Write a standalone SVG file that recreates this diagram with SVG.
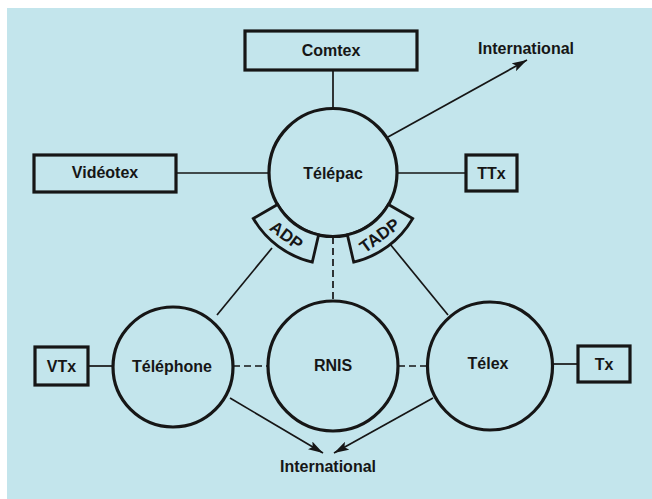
<svg xmlns="http://www.w3.org/2000/svg" width="652" height="499" viewBox="0 0 652 499">
<defs>
<style>
.bg{fill:#c3e5ec}
.node{fill:#c3e5ec;stroke:#161616;stroke-width:3.2}
.seg{fill:#c3e5ec;stroke:#161616;stroke-width:2.8;stroke-linejoin:miter}
.ln{stroke:#161616;stroke-width:1.7;fill:none}
.dash{stroke-dasharray:7 4}
.t{font-family:"Liberation Sans",Arial,sans-serif;font-weight:bold;font-size:16px;fill:#161616;text-anchor:middle}
.s{font-size:17px}
</style>
<marker id="ah" viewBox="0 0 15 9" refX="15" refY="4.5" markerWidth="15" markerHeight="9" markerUnits="userSpaceOnUse" orient="auto">
<path d="M0,0 L15,4.5 L0,9 L3,4.5 Z" fill="#161616"/>
</marker>
</defs>
<rect x="0" y="0" width="652" height="499" fill="#ffffff"/>
<rect class="bg" x="7" y="8" width="645" height="491"/>

<g id="connectors">
<line class="ln" x1="333" y1="70" x2="333" y2="108"/>
<line class="ln" x1="176" y1="173" x2="269" y2="173"/>
<line class="ln" x1="397" y1="173" x2="466" y2="173"/>
<line class="ln" x1="388" y1="137" x2="527" y2="60" marker-end="url(#ah)"/>
<line class="ln" x1="272" y1="248" x2="217" y2="315"/>
<line class="ln" x1="390" y1="244" x2="448" y2="315"/>
<line class="ln dash" x1="333" y1="237" x2="333" y2="301"/>
<line class="ln" x1="88" y1="366" x2="113" y2="366"/>
<line class="ln dash" x1="233" y1="366" x2="268" y2="366"/>
<line class="ln dash" x1="398" y1="366" x2="428" y2="366"/>
<line class="ln" x1="552" y1="364" x2="578" y2="364"/>
<line class="ln" x1="230" y1="398" x2="323" y2="453" marker-end="url(#ah)"/>
<line class="ln" x1="433" y1="398" x2="334" y2="453" marker-end="url(#ah)"/>
</g>

<g id="comtex">
<rect class="node" x="245" y="31" width="172" height="39"/>
<text class="t" x="331" y="56">Comtex</text>
</g>
<g id="videotex">
<rect class="node" x="34" y="155" width="142" height="37"/>
<text class="t" x="105" y="178">Vidéotex</text>
</g>
<g id="ttx">
<rect class="node" x="466" y="155" width="51" height="36"/>
<text class="t" x="491.5" y="179">TTx</text>
</g>
<g id="telepac">
<circle class="node" cx="333" cy="172.5" r="64"/>
<text class="t" x="333" y="179">Télépac</text>
</g>
<g id="adp">
<path class="seg" d="M318.6,234.9 L312.3,262.1 A92,92 0 0 1 253.3,218.5 L277.6,204.5 A64,64 0 0 0 318.6,234.9 Z"/>
<text class="t s" transform="translate(286.6,235.2) rotate(36.5)" x="0" y="6">ADP</text>
</g>
<g id="tadp">
<path class="seg" d="M347.4,234.9 L353.7,262.1 A92,92 0 0 0 412.7,218.5 L388.4,204.5 A64,64 0 0 1 347.4,234.9 Z"/>
<text class="t s" transform="translate(379.4,235.2) rotate(-36.5)" x="0" y="6">TADP</text>
</g>
<g id="international-top">
<text class="t" x="526" y="54">International</text>
</g>
<g id="vtx">
<rect class="node" x="35" y="347" width="53" height="38"/>
<text class="t" x="61.5" y="372">VTx</text>
</g>
<g id="telephone">
<circle class="node" cx="173" cy="367" r="60"/>
<text class="t" x="172" y="372">Téléphone</text>
</g>
<g id="rnis">
<circle class="node" cx="333" cy="366" r="65"/>
<text class="t" x="333" y="371">RNIS</text>
</g>
<g id="telex">
<ellipse class="node" cx="490" cy="366" rx="62.5" ry="64"/>
<text class="t" x="488" y="369">Télex</text>
</g>
<g id="tx">
<rect class="node" x="578" y="346" width="52" height="36"/>
<text class="t" x="604" y="370">Tx</text>
</g>
<g id="international-bottom">
<text class="t" x="328" y="472">International</text>
</g>
</svg>
